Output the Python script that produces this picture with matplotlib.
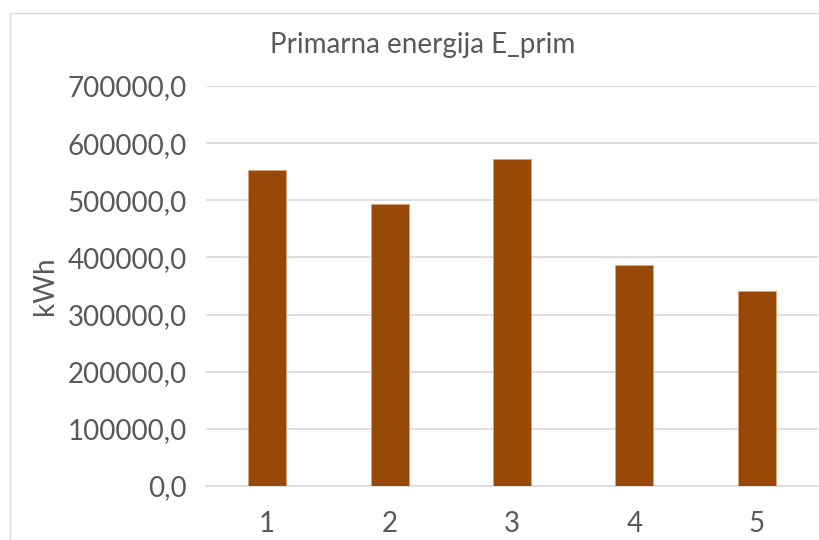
import matplotlib.pyplot as plt
from matplotlib.ticker import FuncFormatter
from matplotlib.patches import Rectangle

plt.rcParams['font.family'] = ['Lato', 'DejaVu Sans']

# data
categories = ['1', '2', '3', '4', '5']
values = [553000, 493000, 572000, 386000, 341000]
y_ticks = [0, 100000, 200000, 300000, 400000, 500000, 600000, 700000]

text_col = '#595959'

fig = plt.figure(figsize=(8.19, 5.4), dpi=100)
# chart border (Excel-style chart area, cropped at right/bottom)
fig.patches.append(Rectangle((10 / 819, -0.1), 1.2, 1.1 - 13 / 540,
                             transform=fig.transFigure, fill=False,
                             edgecolor='#d9d9d9', linewidth=1))

ax = fig.add_axes([206 / 819, 54 / 540, 612 / 819, 400 / 540])
x = range(len(categories))
ax.bar(x, values, width=0.31, color='#984807', edgecolor='#d9a47a',
       linewidth=0.6, zorder=3)

ax.set_xlim(-0.5, len(categories) - 0.5)
ax.set_ylim(0, 700000)
ax.set_yticks(y_ticks)
ax.yaxis.set_major_formatter(FuncFormatter(lambda v, p: f'{v:.1f}'.replace('.', ',')))
ax.set_xticks(list(x))
ax.set_xticklabels(categories)
ax.grid(axis='y', color='#d9d9d9', linewidth=1.2, zorder=0)
for s in ax.spines.values():
    s.set_visible(False)
ax.spines['bottom'].set_visible(True)
ax.spines['bottom'].set_color('#d9d9d9')
ax.spines['bottom'].set_linewidth(1.2)
ax.tick_params(length=0, labelsize=20, colors=text_col, pad=18)
ax.tick_params(axis='y', pad=14)

ax.set_ylabel('kWh', fontsize=20, color=text_col, labelpad=7)
fig.text(423 / 819, 1 - 45 / 540, 'Primarna energija E_prim', fontsize=20,
         color=text_col, ha='center', va='center')

fig.savefig('out.png', dpi=100)
